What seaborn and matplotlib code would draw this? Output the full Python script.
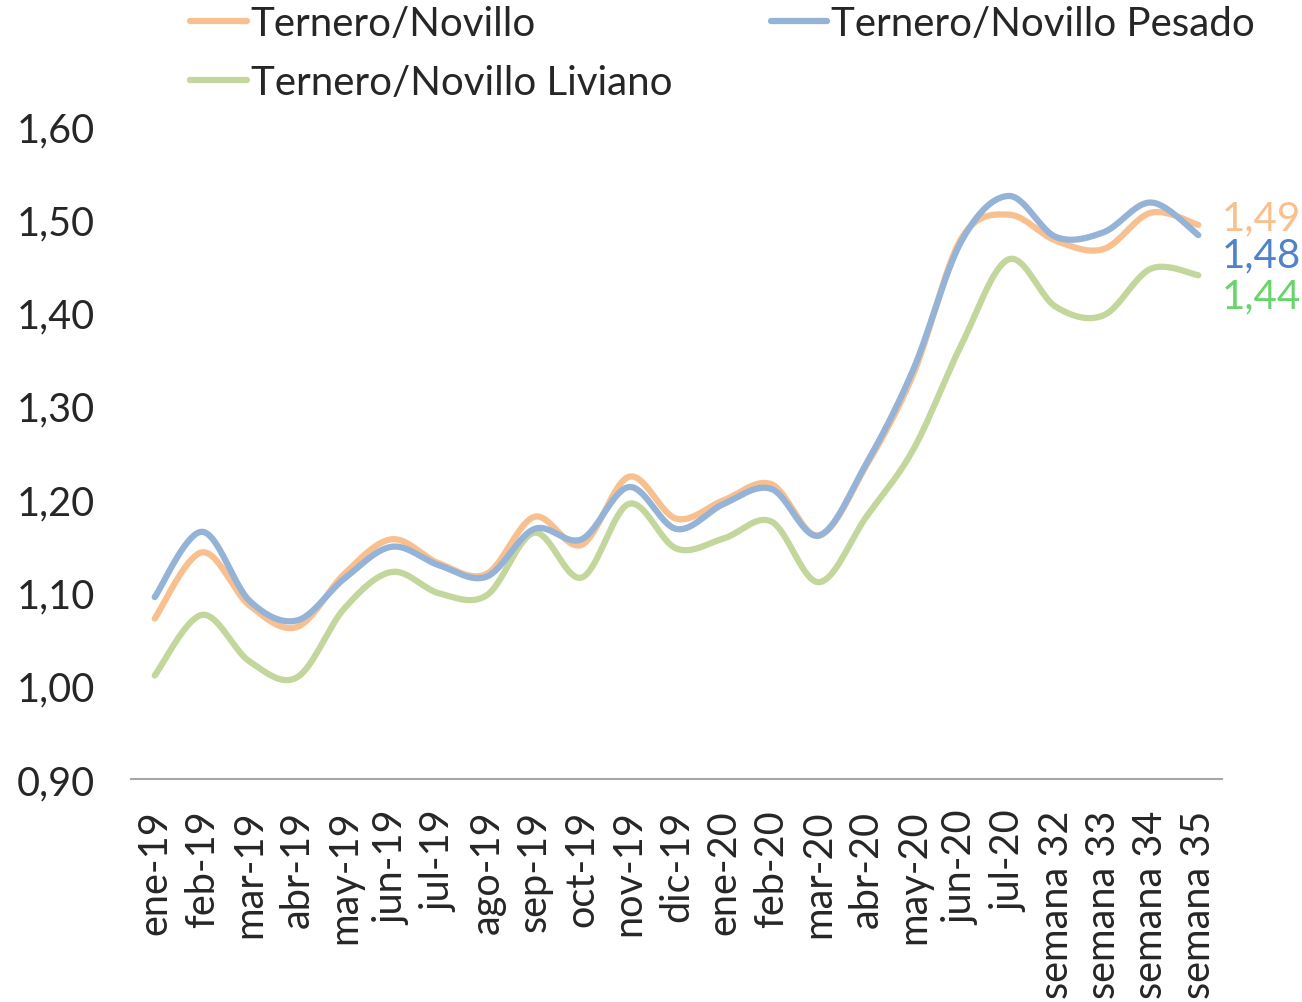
import numpy as np
import pandas as pd
import matplotlib.pyplot as plt
import seaborn as sns
from matplotlib.ticker import FixedLocator, FuncFormatter

# Categories (months, then weeks)
categorias = [
    "ene-19", "feb-19", "mar-19", "abr-19", "may-19", "jun-19", "jul-19",
    "ago-19", "sep-19", "oct-19", "nov-19", "dic-19", "ene-20", "feb-20",
    "mar-20", "abr-20", "may-20", "jun-20", "jul-20",
    "semana 32", "semana 33", "semana 34", "semana 35",
]

# Ratio values
novillo = [1.072, 1.143, 1.086, 1.063, 1.120, 1.157, 1.131, 1.120, 1.181, 1.151,
           1.224, 1.179, 1.199, 1.216, 1.161, 1.236, 1.335, 1.479, 1.505, 1.477,
           1.468, 1.507, 1.494]
pesado = [1.095, 1.165, 1.091, 1.070, 1.115, 1.149, 1.129, 1.117, 1.168, 1.157,
          1.213, 1.168, 1.195, 1.211, 1.161, 1.238, 1.340, 1.476, 1.525, 1.481,
          1.486, 1.518, 1.483]
liviano = [1.011, 1.076, 1.026, 1.009, 1.083, 1.122, 1.099, 1.097, 1.164, 1.116,
           1.195, 1.147, 1.158, 1.176, 1.111, 1.181, 1.254, 1.365, 1.457, 1.406,
           1.397, 1.447, 1.440]

y_ticks = [0.90, 1.00, 1.10, 1.20, 1.30, 1.40, 1.50, 1.60]


def smooth(vals, n=40):
    # Excel-style smoothed line: Catmull-Rom segments as cubic Bezier
    pts = np.column_stack([np.arange(len(vals)), vals]).astype(float)
    pad = np.vstack([pts[0], pts, pts[-1]])
    t = np.linspace(0, 1, n)[:, None]
    out = []
    for i in range(len(vals) - 1):
        p0, p1, p2, p3 = pad[i], pad[i + 1], pad[i + 2], pad[i + 3]
        c1 = p1 + (p2 - p0) / 6
        c2 = p2 - (p3 - p1) / 6
        seg = ((1 - t) ** 3) * p1 + 3 * ((1 - t) ** 2) * t * c1 + 3 * (1 - t) * t ** 2 * c2 + t ** 3 * p2
        out.append(seg if i == 0 else seg[1:])
    out = np.vstack(out)
    return out[:, 0], out[:, 1]


sns.set_style("white")
plt.rcParams["font.family"] = ["Lato", "DejaVu Sans"]

fig = plt.figure(figsize=(13.02, 10.03), dpi=100)
ax = fig.add_axes([0.1006, 0.2223, 0.8380, 0.6511])

series = [
    ("Ternero/Novillo", novillo, "#F9C08F", "#F9C08F"),
    ("Ternero/Novillo Liviano", liviano, "#C3D69B", "#6AD46C"),
    ("Ternero/Novillo Pesado", pesado, "#95B3D7", "#4F81CC"),
]

for name, vals, col, _ in series:
    xs, ys = smooth(vals)
    df = pd.DataFrame({"x": xs, "y": ys})
    sns.lineplot(data=df, x="x", y="y", ax=ax, color=col, linewidth=4.5,
                 label=name, sort=False, solid_capstyle="round")

# End-value labels
offsets = {"Ternero/Novillo": 5, "Ternero/Novillo Pesado": -14, "Ternero/Novillo Liviano": -15}
for name, vals, _, tcol in series:
    ax.annotate(f"{vals[-1]:.2f}".replace(".", ","), xy=(len(vals) - 1, vals[-1]),
                xytext=(17, offsets[name]), textcoords="offset points",
                ha="left", va="center", fontsize=29, color=tcol, annotation_clip=False)

ax.set_xlim(-0.5, len(categorias) - 0.5)
ax.set_ylim(0.9, 1.6)
ax.set_yticks(y_ticks)
ax.yaxis.set_major_formatter(FuncFormatter(lambda v, p: f"{v:.2f}".replace(".", ",")))
ax.set_xticks(range(len(categorias)))
ax.set_xticklabels(categorias, rotation=90)
ax.xaxis.set_minor_locator(FixedLocator(np.arange(-0.5, len(categorias), 1)))
ax.tick_params(axis="x", which="major", length=0, pad=22, labelsize=28.5)
ax.tick_params(axis="x", which="minor", length=12, width=1.5, color="#A6A6A6", direction="out")
ax.tick_params(axis="y", length=0, pad=26, labelsize=28.5)
ax.set_xlabel("")
ax.set_ylabel("")

for s in ["top", "right", "left"]:
    ax.spines[s].set_visible(False)
ax.spines["bottom"].set_color("#A6A6A6")
ax.spines["bottom"].set_linewidth(1.5)

ax.get_legend().remove()
handles, labels = ax.get_legend_handles_labels()
fig.legend(handles, labels, loc="upper left", bbox_to_anchor=(0.143, 0.998), ncol=2,
           frameon=False, fontsize=29, handlelength=1.4, handletextpad=0.1,
           columnspacing=2.45, labelspacing=0.55, borderpad=0.1, borderaxespad=0)

fig.savefig("out.png", dpi=100)
